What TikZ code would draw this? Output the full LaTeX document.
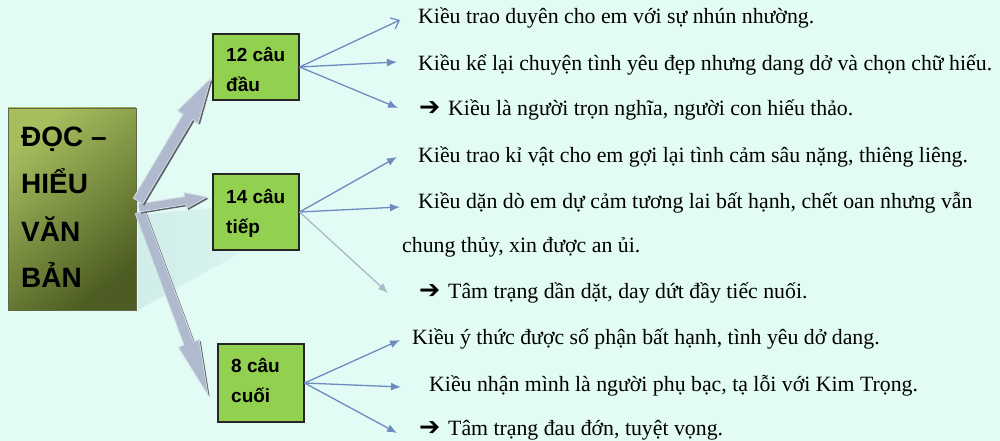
\documentclass[tikz,border=0pt]{standalone}
\usepackage{fontspec}
\setmainfont{Liberation Serif}
\newfontfamily\boxfont{Liberation Sans}
\newfontfamily\arrowfont{DejaVu Sans}
\usetikzlibrary{arrows.meta,calc}
\definecolor{bg}{HTML}{E2FBF4}
\definecolor{boxgreen}{HTML}{92D050}
\definecolor{thin}{HTML}{6D8BC0}
\definecolor{thinlight}{HTML}{A9B9C9}
\definecolor{fatbody}{HTML}{B0BACF}
\definecolor{fatlight}{HTML}{D4DBE3}
\definecolor{fatdark}{HTML}{5C6068}
\definecolor{oliveA}{HTML}{A6BE5E}
\definecolor{oliveB}{HTML}{4C5C22}
\definecolor{pale}{HTML}{D0EDEA}
\newcommand\fatarr[5]{%
  \coordinate (#1#2h) at ($(#2)!#5!(#1)$);
  \fill[fatdark, transform canvas={xshift=1.6pt,yshift=-1.6pt}]
    ($(#1)!#3!90:(#2)$) -- ($(#1#2h)!#3!90:(#2)$) -- ($(#1#2h)!#4!90:(#2)$) -- (#2)
    -- ($(#1#2h)!#4!-90:(#2)$) -- ($(#1#2h)!#3!-90:(#2)$) -- ($(#1)!#3!-90:(#2)$) -- cycle;
  \filldraw[fill=fatbody, draw=fatlight, line width=0.8pt]
    ($(#1)!#3!90:(#2)$) -- ($(#1#2h)!#3!90:(#2)$) -- ($(#1#2h)!#4!90:(#2)$) -- (#2)
    -- ($(#1#2h)!#4!-90:(#2)$) -- ($(#1#2h)!#3!-90:(#2)$) -- ($(#1)!#3!-90:(#2)$) -- cycle;
}
\newcommand\bigarrow{\makebox[29pt][l]{\arrowfont\bfseries\fontsize{22}{26}\selectfont\scalebox{1.15}{➔}}}
\begin{document}
\begin{tikzpicture}[x=1pt,y=-1pt,
  txt/.style={anchor=base west, inner sep=0pt, font=\fontsize{21.8}{26}\selectfont},
  big/.style={anchor=base west, inner sep=0pt, font=\boxfont\bfseries\fontsize{28}{32}\selectfont},
  small/.style={anchor=base west, inner sep=0pt, font=\boxfont\bfseries\fontsize{19}{22}\selectfont},
  gbox/.style={draw=black!85, line width=1.2pt, fill=boxgreen, minimum width=86pt, inner sep=0pt},
  thinarrow/.style={draw=thin, line width=1.3pt, -{Latex[length=10pt,width=8pt]}},
  openarrow/.style={draw=thin, line width=1.3pt, -{Straight Barb[length=7pt,width=12pt]}},
  lightarrow/.style={draw=thinlight, line width=1.3pt, -{Latex[length=10pt,width=8pt]}},
]
\fill[bg] (0,0) rectangle (1000,441);
\useasboundingbox (0,0) rectangle (1000,441);

% pale shadow
\shade[left color=pale, right color=pale!50!bg] (138,215) -- (213,208) -- (213,250) -- (240,253) -- (138,310) -- cycle;

% left box
\node[shade, top color=oliveA, bottom color=oliveB, shading angle=40,
      draw=oliveB!60!gray, line width=0.6pt, minimum width=128pt, minimum height=202pt,
      inner sep=0pt] (doc) at (72,209) {};
\node[big] (l1) at (21,146) {ĐỌC –};
\node[big] (l2) at (21,193) {HIỂU};
\node[big] (l3) at (21,241) {VĂN};
\node[big] (l4) at (21,287) {BẢN};

% green boxes
\node[gbox, minimum height=66pt] (b1) at (256,67) {};
\node[gbox, minimum height=76pt] (b2) at (256,212) {};
\node[gbox, minimum height=78pt] (b3) at (261,383) {};
\node[small] (b1a) at (226,62) {12 câu};
\node[small] (b1b) at (226,92) {đầu};
\node[small] (b2a) at (226,203) {14 câu};
\node[small] (b2b) at (226,233) {tiếp};
\node[small] (b3a) at (231,372) {8 câu};
\node[small] (b3b) at (231,402) {cuối};

% fat arrows
\coordinate (o1) at (138,201);
\coordinate (o2) at (139,208);
\coordinate (o3) at (140,212);
\coordinate (f1) at (211,78);
\coordinate (f2) at (207,197);
\coordinate (f3) at (208,395);
\fatarr{o3}{f3}{5pt}{11pt}{55pt}
\fatarr{o2}{f2}{4pt}{8pt}{22pt}
\fatarr{o1}{f1}{5.5pt}{12pt}{45pt}

% thin arrows
\coordinate (a1) at (400,20);
\coordinate (a2) at (397,62);
\coordinate (a3) at (398,108);
\coordinate (a4) at (397,157);
\coordinate (a5) at (400,207);
\coordinate (a6) at (388,293);
\coordinate (a7) at (400,340);
\coordinate (a8) at (401,387);
\coordinate (a9) at (397,433);
\draw[openarrow] (b1.east) -- (a1);
\draw[thinarrow] (b1.east) -- (a2);
\draw[thinarrow] (b1.east) -- (a3);
\draw[thinarrow] (b2.east) -- (a4);
\draw[thinarrow] (b2.east) -- (a5);
\draw[lightarrow] (b2.east) -- (a6);
\draw[thinarrow] (b3.east) -- (a7);
\draw[thinarrow] (b3.east) -- (a8);
\draw[thinarrow] (b3.east) -- (a9);

% texts
\node[txt] (t1) at (418,24) {Kiều trao duyên cho em với sự nhún nhường.};
\node[txt] (t2) at (418,71) {Kiều kể lại chuyện tình yêu đẹp nhưng dang dở và chọn chữ hiếu.};
\node[txt] (t3) at (419,116) {\bigarrow Kiều là người trọn nghĩa, người con hiếu thảo.};
\node[txt] (t4) at (418,162) {Kiều trao kỉ vật cho em gợi lại tình cảm sâu nặng, thiêng liêng.};
\node[txt] (t5) at (418,208) {Kiều dặn dò em dự cảm tương lai bất hạnh, chết oan nhưng vẫn};
\node[txt] (t6) at (402,252) {chung thủy, xin được an ủi.};
\node[txt] (t7) at (419,298) {\bigarrow Tâm trạng dần dặt, day dứt đầy tiếc nuối.};
\node[txt] (t8) at (412,344) {Kiều ý thức được số phận bất hạnh, tình yêu dở dang.};
\node[txt] (t9) at (429,391) {Kiều nhận mình là người phụ bạc, tạ lỗi với Kim Trọng.};
\node[txt] (t10) at (419,435.5) {\bigarrow Tâm trạng đau đớn, tuyệt vọng.};
\end{tikzpicture}
\end{document}
